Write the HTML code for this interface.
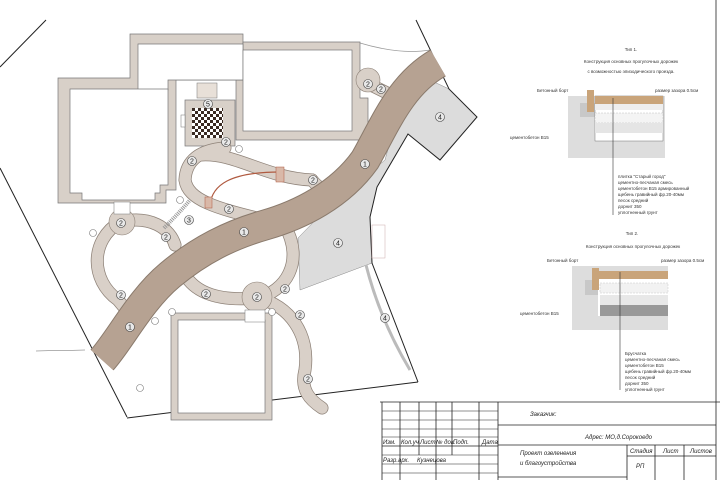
<!DOCTYPE html>
<html><head><meta charset="utf-8"><style>
html,body{margin:0;padding:0;background:#fff}
svg{display:block}
text{font-family:"Liberation Sans",sans-serif}
.n{font-size:7px;text-anchor:middle}
.s{font-size:4.5px;fill:#333}
.t{font-family:"Liberation Sans",sans-serif;font-style:italic;font-size:6px;fill:#222}
</style></head><body>
<svg width="720" height="480" viewBox="0 0 720 480" xmlns="http://www.w3.org/2000/svg">
<rect width="720" height="480" fill="#fff"/>
<polyline points="0,67 46,20" fill="none" stroke="#222" stroke-width="1"/>
<polyline points="0,168 127,417" fill="none" stroke="#222" stroke-width="1"/>
<polyline points="127,418 418,382" fill="none" stroke="#222" stroke-width="1"/>
<path d="M36,351 L85,350" stroke="#666" stroke-width="0.6" fill="none"/>
<polygon points="408,134 440,160 477,117 449,89 430,80 400,105 385,160 330,205 298,238 300,290 372,263 370,217 377,187" fill="#dcdcdc" stroke="#888" stroke-width="0.5"/>
<polyline points="416,20 449,89 477,117 440,160 408,134 377,187 370,217 372,263 418,382" fill="none" stroke="#222" stroke-width="1"/>
<path d="M366,265 Q380,320 410,370" stroke="#bbb" stroke-width="3" fill="none"/>
<path d="M360,43 Q400,55 430,50" stroke="#999" stroke-width="0.8" fill="none"/>
<g fill="#d8d0c8" stroke="#777" stroke-width="0.7">
<polygon points="58,78 130,78 130,34 243,34 243,80 176,80 176,190 166,190 166,203 58,203"/>
<polygon points="243,42 360,42 360,98 368,98 368,140 236,140 236,80 243,80"/>
<rect x="185" y="100" width="50" height="46"/>
<rect x="171" y="313" width="101" height="107"/>
</g>
<g fill="#fff" stroke="#777" stroke-width="0.7">
<polygon points="138,44 243,44 243,80 168,80 168,90 138,90"/>
<polygon points="70,89 168,89 168,185 160,185 160,193 155,193 155,200 82,200 82,193 70,193"/>
<rect x="243" y="50" width="109" height="81"/>
<rect x="178" y="320" width="87" height="93"/>
</g>
<defs><pattern id="ch" width="6" height="6" patternUnits="userSpaceOnUse"><rect width="6" height="6" fill="#fff"/><rect width="3" height="3" fill="#3a2a22"/><rect x="3" y="3" width="3" height="3" fill="#3a2a22"/></pattern></defs>
<rect x="192" y="108" width="31" height="30" fill="url(#ch)"/>
<rect x="197" y="83" width="20" height="15" fill="#e8e0d8" stroke="#777" stroke-width="0.5"/>
<rect x="181" y="115" width="4" height="12" fill="#fff" stroke="#777" stroke-width="0.5"/>
<g fill="none" stroke-linecap="round">
<g stroke="#8e8278" stroke-width="13">
<path d="M120,222 C150,215 170,228 175,245"/>
<path d="M120,222 C90,240 90,280 118,300 L128,312"/>
<path d="M185,275 C200,300 235,300 257,298 C285,292 305,262 285,226"/>
<path d="M257,298 C290,305 310,335 305,370 C300,390 310,400 322,408"/>
<path d="M225,148 C200,150 186,160 185,180 C188,200 215,208 265,220"/>
<path d="M200,155 C235,152 265,178 312,180"/>
<path d="M312,180 C320,190 325,190 330,185"/>
<path d="M365,82 L385,92"/>
</g>
<g stroke="#d9d0c8" stroke-width="11.5">
<path d="M120,222 C150,215 170,228 175,245"/>
<path d="M120,222 C90,240 90,280 118,300 L128,312"/>
<path d="M185,275 C200,300 235,300 257,298 C285,292 305,262 285,226"/>
<path d="M257,298 C290,305 310,335 305,370 C300,390 310,400 322,408"/>
<path d="M225,148 C200,150 186,160 185,180 C188,200 215,208 265,220"/>
<path d="M200,155 C235,152 265,178 312,180"/>
<path d="M312,180 C320,190 325,190 330,185"/>
<path d="M365,82 L385,92"/>
</g>
</g>
<circle cx="122" cy="222" r="13" fill="#d9d0c8" stroke="#8e8278" stroke-width="0.6"/>
<circle cx="257" cy="297" r="15" fill="#d9d0c8" stroke="#8e8278" stroke-width="0.6"/>
<circle cx="368" cy="80" r="12" fill="#d9d0c8" stroke="#8e8278" stroke-width="0.6"/>
<rect x="114" y="202" width="16" height="12" fill="#fff" stroke="#777" stroke-width="0.5"/>
<rect x="245" y="310" width="20" height="12" fill="#fff" stroke="#777" stroke-width="0.5"/>
<path d="M102,360 C120,340 140,300 170,275 C200,250 230,235 265,225 C300,215 340,195 365,160 C385,125 400,85 438,63" fill="none" stroke="#8a7a6c" stroke-width="31"/>
<path d="M102,360 C120,340 140,300 170,275 C200,250 230,235 265,225 C300,215 340,195 365,160 C385,125 400,85 438,63" fill="none" stroke="#b6a292" stroke-width="29"/>
<path d="M210,205 C212,185 230,172 280,172" fill="none" stroke="#b05a40" stroke-width="1.2"/>
<rect x="276" y="167" width="8" height="15" fill="#d9b8a8" stroke="#b05a40" stroke-width="0.5"/>
<rect x="205" y="197" width="7" height="11" fill="#d9b8a8" stroke="#b05a40" stroke-width="0.5"/>
<path d="M164,228 Q180,212 190,200" stroke="#999" stroke-width="4" stroke-dasharray="1,1" fill="none"/>
<rect x="372" y="225" width="13" height="33" fill="none" stroke="#caa" stroke-width="0.5"/>
<g fill="#fff" stroke="#777" stroke-width="0.6">
<circle cx="239" cy="149" r="3.5"/><circle cx="180" cy="200" r="3.5"/><circle cx="93" cy="233" r="3.5"/>
<circle cx="172" cy="312" r="3.5"/><circle cx="155" cy="321" r="3.5"/><circle cx="272" cy="312" r="3.5"/>
<circle cx="140" cy="388" r="3.5"/>
</g>
<g fill="#e8e8e8" stroke="#444" stroke-width="0.6">
<circle cx="208" cy="104" r="4.5"/><circle cx="226" cy="142" r="4.5"/><circle cx="192" cy="161" r="4.5"/>
<circle cx="313" cy="180" r="4.5"/><circle cx="229" cy="209" r="4.5"/><circle cx="189" cy="220" r="4.5"/>
<circle cx="121" cy="223" r="4.5"/><circle cx="166" cy="237" r="4.5"/><circle cx="244" cy="232" r="4.5"/>
<circle cx="338" cy="243" r="4.5"/><circle cx="365" cy="164" r="4.5"/><circle cx="440" cy="117" r="4.5"/>
<circle cx="121" cy="295" r="4.5"/><circle cx="206" cy="294" r="4.5"/><circle cx="257" cy="297" r="4.5"/>
<circle cx="285" cy="289" r="4.5"/><circle cx="300" cy="315" r="4.5"/><circle cx="130" cy="327" r="4.5"/>
<circle cx="308" cy="379" r="4.5"/><circle cx="385" cy="318" r="4.5"/><circle cx="368" cy="84" r="4.5"/><circle cx="381" cy="89" r="4.5"/>
</g>
<g class="n" fill="#222">
<text x="208" y="106.5">5</text><text x="226" y="144.5">2</text><text x="192" y="163.5">2</text>
<text x="313" y="182.5">2</text><text x="229" y="211.5">2</text><text x="189" y="222.5">3</text>
<text x="121" y="225.5">2</text><text x="166" y="239.5">2</text><text x="244" y="234.5">1</text>
<text x="338" y="245.5">4</text><text x="365" y="166.5">1</text><text x="440" y="119.5">4</text>
<text x="121" y="297.5">2</text><text x="206" y="296.5">2</text><text x="257" y="299.5">2</text>
<text x="285" y="291.5">2</text><text x="300" y="317.5">2</text><text x="130" y="329.5">1</text>
<text x="308" y="381.5">2</text><text x="385" y="320.5">4</text><text x="368" y="86.5">2</text><text x="381" y="91.5">2</text>
</g>
<text x="631" y="51" class="s" text-anchor="middle">Тип 1.</text>
<text x="631" y="63" class="s" text-anchor="middle">Конструкция основных прогулочных дорожек</text>
<text x="631" y="73" class="s" text-anchor="middle">с возможностью эпизодического проезда.</text>
<rect x="568" y="96" width="97" height="62" fill="#ddd"/>
<rect x="580" y="103" width="22" height="14" fill="#c8c8c8"/>
<rect x="595" y="96" width="68" height="45" fill="#fff" stroke="#555" stroke-width="0.4"/>
<rect x="595" y="96" width="68" height="8" fill="#c9a47a"/>
<rect x="595" y="104" width="68" height="6" fill="#eee"/>
<rect x="595" y="113" width="68" height="10" fill="#f4f4f4" stroke="#999" stroke-width="0.3" stroke-dasharray="2,1"/>
<rect x="595" y="123" width="68" height="10" fill="#e5e5e5"/>
<rect x="587" y="90" width="7" height="22" fill="#c9a47a"/>
<line x1="613" y1="98" x2="613" y2="215" stroke="#333" stroke-width="0.6"/>
<text x="537" y="92" class="s">Бетонный борт</text>
<text x="655" y="92" class="s">размер зазора 0.5см</text>
<text x="510" y="139" class="s">цементобетон В15</text>
<g class="s"><text x="618" y="178">плитка "Старый город"</text><text x="618" y="184">цементно-песчаная смесь</text><text x="618" y="190">цементобетон В15 армированный</text><text x="618" y="196">щебень гравийный фр.20-40мм</text><text x="618" y="202">песок средний</text><text x="618" y="208">дорнит 350</text><text x="618" y="214">уплотненный грунт</text></g>
<text x="632" y="235" class="s" text-anchor="middle">Тип 2.</text>
<text x="633" y="248" class="s" text-anchor="middle">Конструкция основных прогулочных дорожек</text>
<rect x="572" y="266" width="96" height="64" fill="#ddd"/>
<rect x="585" y="280" width="22" height="15" fill="#c8c8c8"/>
<rect x="598" y="271" width="70" height="45" fill="#fff"/>
<rect x="598" y="271" width="70" height="8" fill="#c9a47a"/>
<rect x="600" y="283" width="68" height="10" fill="#f2f2f2" stroke="#aaa" stroke-width="0.3" stroke-dasharray="2,1"/>
<rect x="600" y="295" width="68" height="10" fill="#e8e8e8"/>
<rect x="600" y="305" width="68" height="11" fill="#999"/>
<rect x="592" y="268" width="7" height="22" fill="#c9a47a"/>
<line x1="620" y1="272" x2="620" y2="390" stroke="#333" stroke-width="0.6"/>
<text x="547" y="262" class="s">Бетонный борт</text>
<text x="661" y="262" class="s">размер зазора 0.5см</text>
<text x="520" y="315" class="s">цементобетон В15</text>
<g class="s"><text x="625" y="355">Брусчатка</text><text x="625" y="361">цементно-песчаная смесь</text><text x="625" y="367">цементобетон В15</text><text x="625" y="373">щебень гравийный фр.20-40мм</text><text x="625" y="379">песок средний</text><text x="625" y="385">дорнит 350</text><text x="625" y="391">уплотненный грунт</text></g>
<g stroke="#222" stroke-width="0.8" fill="none">
<line x1="380" y1="402" x2="720" y2="402"/>
<line x1="382" y1="402" x2="382" y2="480"/>
<line x1="716" y1="0" x2="716" y2="480"/>
<line x1="498" y1="402" x2="498" y2="480"/>
<g stroke-width="0.5"><line x1="382" y1="411" x2="498" y2="411"/><line x1="382" y1="420" x2="498" y2="420"/><line x1="382" y1="429" x2="498" y2="429"/><line x1="382" y1="437" x2="498" y2="437"/><line x1="382" y1="455" x2="498" y2="455"/><line x1="382" y1="464" x2="498" y2="464"/><line x1="382" y1="473" x2="498" y2="473"/></g>
<line x1="382" y1="446" x2="498" y2="446"/>
<line x1="400" y1="402" x2="400" y2="480"/><line x1="419" y1="402" x2="419" y2="455"/><line x1="436" y1="402" x2="436" y2="480"/><line x1="452" y1="402" x2="452" y2="455"/><line x1="479" y1="402" x2="479" y2="480"/>
<line x1="498" y1="425" x2="716" y2="425"/><line x1="498" y1="445" x2="716" y2="445"/>
<line x1="627" y1="445" x2="627" y2="480"/><line x1="655" y1="445" x2="655" y2="480"/><line x1="684" y1="445" x2="684" y2="480"/>
<line x1="627" y1="456" x2="716" y2="456"/>
<line x1="498" y1="477" x2="627" y2="477"/>
</g>
<g class="t"><text x="530" y="416">Заказчик:</text><text x="585" y="439">Адрес: МО,д.Сорокоедо</text>
<text x="383" y="444">Изм.</text><text x="401" y="444">Кол.уч</text><text x="420" y="444">Лист</text><text x="436" y="444">№ док.</text><text x="453" y="444">Подп.</text><text x="482" y="444">Дата</text>
<text x="383" y="462">Разр.</text><text x="398" y="462">арх.</text><text x="417" y="462">Кузнецова</text>
<text x="520" y="455">Проект озеленения</text><text x="520" y="465">и благоустройства</text>
<text x="630" y="453">Стадия</text><text x="663" y="453">Лист</text><text x="690" y="453">Листов</text><text x="636" y="468">РП</text></g>
</svg>
</body></html>
